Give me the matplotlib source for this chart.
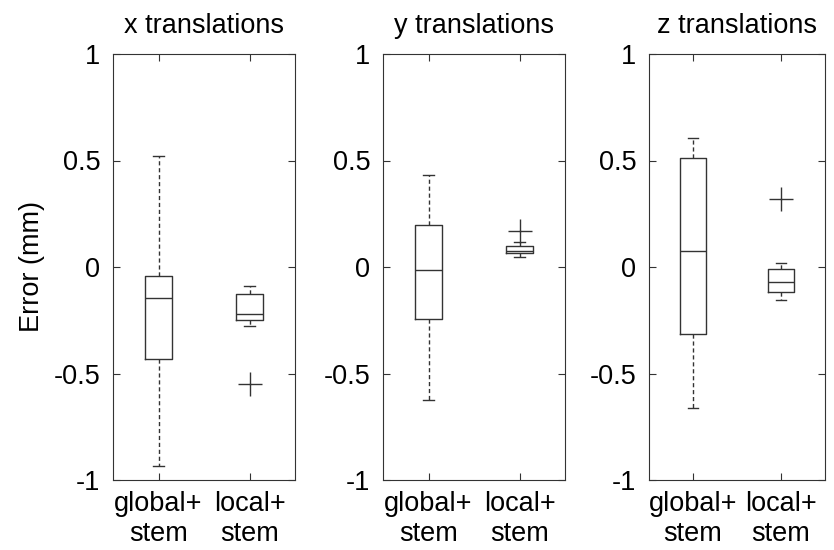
import matplotlib.pyplot as plt

plt.rcParams['font.family'] = ['Liberation Sans', 'DejaVu Sans']

# box statistics (mm)
titles = ['x translations', 'y translations', 'z translations']
groups = ['global+\nstem', 'local+\nstem']

# per panel: [global, local] -> (low whisker, q1, median, q3, high whisker, outliers)
x_stats = [(-0.934, -0.43, -0.144, -0.04, 0.52, []),
           (-0.277, -0.249, -0.22, -0.127, -0.088, [-0.55])]
y_stats = [(-0.624, -0.244, -0.013, 0.196, 0.43, []),
           (0.047, 0.064, 0.077, 0.10, 0.117, [0.169])]
z_stats = [(-0.66, -0.315, 0.077, 0.51, 0.604, []),
           (-0.153, -0.117, -0.069, -0.011, 0.019, [0.319])]
all_stats = [x_stats, y_stats, z_stats]

fig = plt.figure(figsize=(8.34, 5.5), dpi=100)
axes_pos = [[113, 182], [383, 182], [649, 176]]
col = '#333333'
fs = 19.5

for i, (title, stats) in enumerate(zip(titles, all_stats)):
    left, w = axes_pos[i]
    ax = fig.add_axes([left / 834, 70 / 550, w / 834, 426 / 550])
    bx = []
    for s in stats:
        bx.append(dict(whislo=s[0], q1=s[1], med=s[2], q3=s[3], whishi=s[4], fliers=s[5]))
    ax.bxp(bx, positions=[1, 2], widths=0.3, capwidths=0.12,
           boxprops=dict(color=col, lw=1),
           medianprops=dict(color=col, lw=1),
           whiskerprops=dict(color=col, lw=1, ls=(0, (3, 2))),
           capprops=dict(color=col, lw=1),
           flierprops=dict(marker='+', markersize=17, markeredgecolor=col, markeredgewidth=1))
    ax.set_xlim(0.5, 2.5)
    ax.set_ylim(-1, 1)
    ax.set_yticks([-1, -0.5, 0, 0.5, 1])
    ax.set_yticklabels(['-1', '-0.5', '0', '0.5', '1'])
    ax.set_xticks([1, 2])
    ax.set_xticklabels(groups, linespacing=1.2)
    ax.tick_params(direction='in', length=5, top=True, right=True, labelsize=fs,
                   color=col)
    ax.tick_params(axis='y', pad=9)
    ax.tick_params(axis='x', pad=8)
    for sp in ax.spines.values():
        sp.set_color(col)
    ax.set_title(title, fontsize=fs, pad=15)
    if i == 0:
        ax.set_ylabel('Error (mm)', fontsize=fs, labelpad=6)

fig.savefig('out.png', dpi=100)
